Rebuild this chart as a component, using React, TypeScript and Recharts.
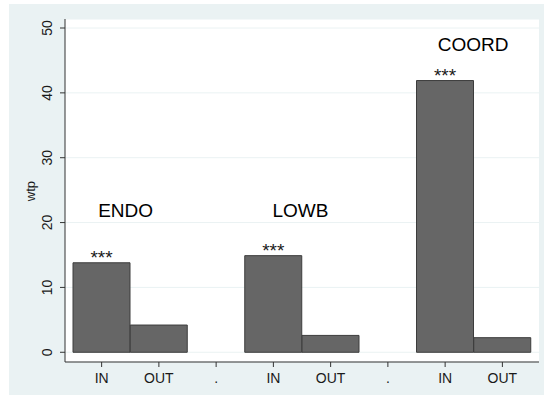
import { BarChart, Bar, XAxis, YAxis, CartesianGrid, LabelList, ReferenceDot } from 'recharts';

// ─── Data ─────────────────────────────────

const keys = ['ENDO-IN', 'ENDO-OUT', 'gap-1', 'LOWB-IN', 'LOWB-OUT', 'gap-2', 'COORD-IN', 'COORD-OUT'];
const tickLabels = ['IN', 'OUT', '.', 'IN', 'OUT', '.', 'IN', 'OUT'];
const wtp = [13.8, 4.2, null, 14.9, 2.6, null, 41.9, 2.25];
const sig = ['***', '', '', '***', '', '', '***', ''];

const groups = ['ENDO', 'LOWB', 'COORD'];
const groupAnchor = ['ENDO-IN', 'LOWB-IN', 'COORD-IN'];
const groupTextAt = [20.8, 20.8, 46.4];
const yTicks = [0, 10, 20, 30, 40, 50];

const data = keys.map((key, i) => ({ key, label: tickLabels[i], wtp: wtp[i], sig: sig[i] }));

// ─── Layout ───────────────────────────────

const FONT = '"Liberation Sans", Arial, sans-serif';
const BG = '#EAF2F3';
const INK = '#1a1a1a';
const groupDx = [24, 27, 28];

function YTick({ x, y, payload }: any) {
  return (
    <text
      x={x}
      y={y}
      transform={`rotate(-90 ${x} ${y})`}
      textAnchor="middle"
      fontSize={14}
      fontFamily={FONT}
      fill={INK}
    >
      {payload.value}
    </text>
  );
}

function Stars(props: any) {
  const vb = props.viewBox ?? props;
  if (!props.value) return null;
  return (
    <text
      x={vb.x + vb.width / 2}
      y={vb.y + 1}
      textAnchor="middle"
      fontSize={19}
      fontFamily={FONT}
      fill={INK}
    >
      {props.value}
    </text>
  );
}

export default function App() {
  return (
    <div style={{ position: 'absolute', left: 0, top: 0, width: 544, height: 396, background: '#fff' }}>
      <div style={{ position: 'absolute', left: 9, top: 4, width: 535, height: 391, background: BG }} />
      <div style={{ position: 'absolute', left: 0, top: 0 }}>
        <BarChart
          width={544}
          height={396}
          data={data}
          margin={{ top: 19, right: 5, bottom: 0, left: 0 }}
          barCategoryGap={0}
          barGap={0}
        >
          <CartesianGrid vertical={false} stroke={BG} fill="#fff" />
          <XAxis
            dataKey="key"
            tickFormatter={(_: string, i: number) => tickLabels[i]}
            interval={0}
            height={34}
            padding={{ left: 8, right: 8 }}
            tickSize={5}
            tickMargin={6}
            tick={{ fontSize: 14, fill: INK, fontFamily: FONT }}
            axisLine={{ stroke: '#333' }}
            tickLine={{ stroke: '#333' }}
          />
          <YAxis
            type="number"
            domain={[-1.5, 51.39]}
            allowDataOverflow
            ticks={yTicks}
            width={65}
            tickSize={5}
            tickMargin={8}
            tick={<YTick />}
            axisLine={{ stroke: '#333' }}
            tickLine={{ stroke: '#333' }}
            label={{
              content: () => (
                <text
                  x={34.5}
                  y={191}
                  transform="rotate(-90 34.5 191)"
                  textAnchor="middle"
                  fontSize={13}
                  fontFamily={FONT}
                  fill={INK}
                >
                  wtp
                </text>
              ),
            }}
          />
          <Bar dataKey="wtp" fill="#666666" stroke="#3c3c3c" strokeWidth={1} isAnimationActive={false}>
            <LabelList dataKey="sig" content={<Stars />} />
          </Bar>
          {groups.map((g, i) => (
            <ReferenceDot
              key={g}
              x={groupAnchor[i]}
              y={groupTextAt[i]}
              r={0}
              shape={(p: any) => (
                <text
                  x={p.cx + groupDx[i]}
                  y={p.cy}
                  textAnchor="middle"
                  fontSize={19}
                  fontFamily={FONT}
                  fill="#000"
                >
                  {g}
                </text>
              )}
            />
          ))}
        </BarChart>
      </div>
    </div>
  );
}
